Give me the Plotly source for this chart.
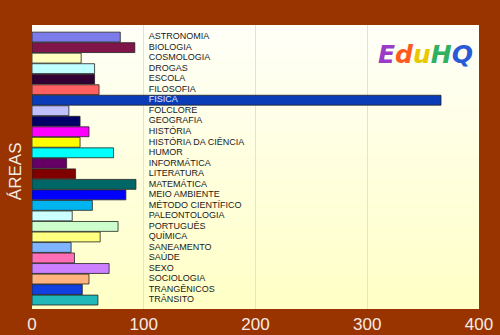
import plotly.graph_objects as go

categories = ["ASTRONOMIA", "BIOLOGIA", "COSMOLOGIA", "DROGAS", "ESCOLA", "FILOSOFIA",
              "FÍSICA", "FOLCLORE", "GEOGRAFIA", "HISTÓRIA", "HISTÓRIA DA CIÊNCIA", "HUMOR",
              "INFORMÁTICA", "LITERATURA", "MATEMÁTICA", "MEIO AMBIENTE", "MÉTODO CIENTÍFICO",
              "PALEONTOLOGIA", "PORTUGUÊS", "QUÍMICA", "SANEAMENTO", "SAÚDE", "SEXO",
              "SOCIOLOGIA", "TRANGÊNICOS", "TRÂNSITO"]
values = [79, 92, 44, 56, 56, 60, 366, 33, 43, 51, 43, 73, 31, 39, 93, 84, 54, 36, 77, 61,
          35, 38, 69, 51, 45, 59]
colors = ["#7B7BEA", "#80154A", "#FFFFC0", "#C0FFFF", "#330033", "#FF6060", "#0A3CB8",
          "#C0C0FF", "#000066", "#FF00FF", "#FFFF00", "#00FFFF", "#660066", "#800000",
          "#006666", "#0000FF", "#00B4F0", "#CCFFFF", "#CCFFCC", "#FFFF80", "#80B4FF",
          "#FF6EB4", "#CC80FF", "#FFB480", "#1040E0", "#20B8B8"]
label_colors = ["#E0F0FF" if c == "FÍSICA" else "#1a1a1a" for c in categories]
xticks = [0, 100, 200, 300, 400]

idx = list(range(len(categories)))

fig = go.Figure()
fig.add_trace(go.Bar(
    x=values, y=idx, orientation="h",
    marker=dict(color=colors, line=dict(color="#222222", width=0.8)),
    width=0.94, hoverinfo="skip", showlegend=False,
))
fig.add_trace(go.Scatter(
    x=[104.5] * len(categories), y=idx, mode="text", text=categories,
    textposition="middle right",
    textfont=dict(family="Liberation Sans, Arial", size=9, color=label_colors),
    hoverinfo="skip", showlegend=False,
))

# gradient background (white-ish top to pale yellow bottom)
n = 24
shapes = []
for i in range(n):
    t = i / (n - 1)
    b = int(round(248 - (248 - 198) * t))
    shapes.append(dict(type="rect", xref="x domain", yref="y domain",
                       x0=0, x1=1, y0=1 - (i + 1) / n, y1=1 - i / n,
                       fillcolor=f"rgb(255,255,{b})", line=dict(width=0), layer="below"))

logo = ("<b><i><span style='color:#9a3cc8'>E</span>"
        "<span style='color:#ff5a1e'>d</span>"
        "<span style='color:#e8c800'>u</span>"
        "<span style='color:#30b060'>H</span>"
        "<span style='color:#2a5ad8'>Q</span></i></b>")

fig.update_layout(
    width=500, height=335,
    margin=dict(l=32, r=21, t=25, b=26, autoexpand=False),
    paper_bgcolor="#993300",
    plot_bgcolor="#FFFFE8",
    shapes=shapes,
    bargap=0.06,
    xaxis=dict(range=[0, 400], tickvals=xticks, ticktext=[str(v) for v in xticks],
               showgrid=True, gridcolor="#E4E2D2", gridwidth=1, zeroline=False,
               showline=False, ticks="", automargin=False, ticklabelstandoff=3,
               tickfont=dict(family="Liberation Sans, Arial", size=17, color="#F4ECE4")),
    yaxis=dict(range=[25.85, -1.15], showticklabels=False, showgrid=False, zeroline=False,
               automargin=False),
    annotations=[
        dict(text=logo, xref="paper", yref="paper", x=0.99, y=0.955,
             xanchor="right", yanchor="top", showarrow=False,
             font=dict(family="DejaVu Sans", size=25)),
        dict(text="ÁREAS", xref="paper", yref="paper", x=-0.037, y=0.487,
             xanchor="center", yanchor="middle", textangle=-90, showarrow=False,
             font=dict(family="Liberation Sans, Arial", size=17, color="#F4ECE4")),
    ],
)

fig.write_html("out.html")
